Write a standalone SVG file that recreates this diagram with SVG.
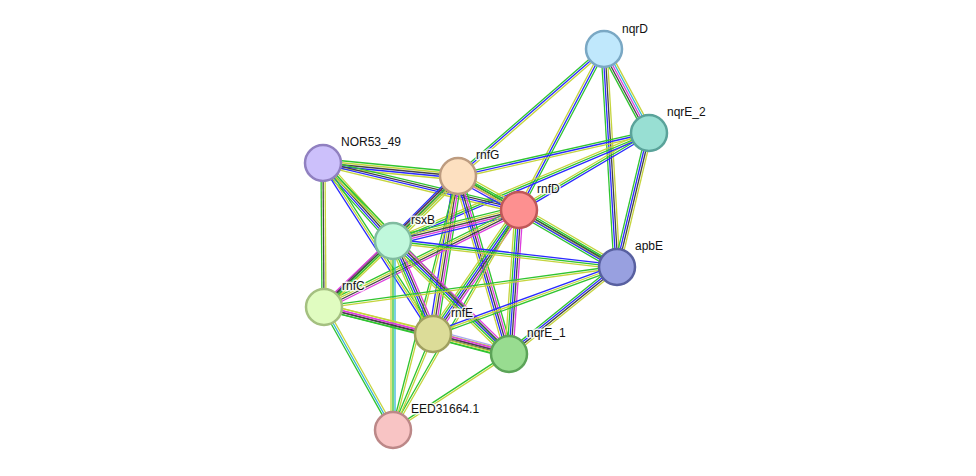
<svg xmlns="http://www.w3.org/2000/svg" width="976" height="476" viewBox="0 0 976 476">
<style>
line{stroke-width:1.3;fill:none}
.y{stroke:#c5d43c}.g{stroke:#2fc42f}.b{stroke:#2a2aff}.k{stroke:#444}.m{stroke:#dd3cdd}.c{stroke:#33b5d6}.h{stroke:#a8a8f0}
.node circle{stroke-width:2.5}
.node text{font-family:"Liberation Sans",Arial,sans-serif;font-size:12px;fill:#111;stroke:#fff;stroke-width:3;stroke-opacity:0.85;paint-order:stroke;stroke-linejoin:round}
</style>
<rect width="976" height="476" fill="#fff"/>
<g id="edges">
<g transform="translate(604 49) rotate(61.8)"><line x2="95.3" y1="-4" y2="-4" class="y"/><line x2="95.3" y1="-2" y2="-2" class="c"/><line x2="95.3" class="m"/><line x2="95.3" y1="2" y2="2" class="k"/><line x2="95.3" y1="4" y2="4" class="g"/></g>
<g transform="translate(604 49) rotate(86.6)"><line x2="218.4" y1="-3" y2="-3" class="y"/><line x2="218.4" y1="-1" y2="-1" class="k"/><line x2="218.4" y1="1" y2="1" class="b"/><line x2="218.4" y1="3" y2="3" class="g"/></g>
<g transform="translate(604 49) rotate(139)"><line x2="193.5" y1="-2" y2="-2" class="y"/><line x2="193.5" class="b"/><line x2="193.5" y1="2" y2="2" class="g"/></g>
<g transform="translate(604 49) rotate(117.8)"><line x2="182.1" y1="-2" y2="-2" class="g"/><line x2="182.1" class="b"/><line x2="182.1" y1="2" y2="2" class="y"/></g>
<g transform="translate(649 133) rotate(167.3)"><line x2="195.8" y1="-2" y2="-2" class="y"/><line x2="195.8" class="b"/><line x2="195.8" y1="2" y2="2" class="g"/></g>
<g transform="translate(649 133) rotate(149.4)"><line x2="151.1" y1="-2" y2="-2" class="b"/><line x2="151.1" class="g"/><line x2="151.1" y1="2" y2="2" class="y"/></g>
<g transform="translate(649 133) rotate(157.1)"><line x2="277.8" y1="-2" y2="-2" class="b"/><line x2="277.8" class="g"/><line x2="277.8" y1="2" y2="2" class="y"/></g>
<g transform="translate(649 133) rotate(103.4)"><line x2="137.8" y1="-3" y2="-3" class="y"/><line x2="137.8" y1="-1" y2="-1" class="k"/><line x2="137.8" y1="1" y2="1" class="b"/><line x2="137.8" y1="3" y2="3" class="g"/></g>
<g transform="translate(323 163) rotate(5.5)"><line x2="135.6" y1="-4" y2="-4" class="g"/><line x2="135.6" y1="-2" y2="-2" class="y"/><line x2="135.6" class="k"/><line x2="135.6" y1="2" y2="2" class="b"/><line x2="135.6" y1="4" y2="4" class="y"/></g>
<g transform="translate(323 163) rotate(13.5)"><line x2="201.6" y1="-3" y2="-3" class="g"/><line x2="201.6" y1="-1" y2="-1" class="k"/><line x2="201.6" y1="1" y2="1" class="b"/><line x2="201.6" y1="3" y2="3" class="y"/></g>
<g transform="translate(323 163) rotate(48.1)"><line x2="104.8" y1="-4" y2="-4" class="y"/><line x2="104.8" y1="-2" y2="-2" class="g"/><line x2="104.8" class="k"/><line x2="104.8" y1="2" y2="2" class="b"/><line x2="104.8" y1="4" y2="4" class="g"/></g>
<g transform="translate(323 163) rotate(89.6)"><line x2="144" y1="-2" y2="-2" class="y"/><line x2="144" class="k"/><line x2="144" y1="2" y2="2" class="g"/></g>
<g transform="translate(323 163) rotate(57.2)"><line x2="203.3" y1="-2" y2="-2" class="g"/><line x2="203.3" class="y"/><line x2="203.3" y1="2" y2="2" class="b"/></g>
<g transform="translate(323 163) rotate(45.8)"><line x2="266.6" y1="-1" y2="-1" class="g"/><line x2="266.6" y1="1" y2="1" class="y"/></g>
<g transform="translate(458 176) rotate(29.1)"><line x2="69.8" y1="-4" y2="-4" class="y"/><line x2="69.8" y1="-2" y2="-2" class="g"/><line x2="69.8" class="k"/><line x2="69.8" y1="2" y2="2" class="m"/><line x2="69.8" y1="4" y2="4" class="b"/></g>
<g transform="translate(458 176) rotate(135)"><line x2="91.9" y1="-4" y2="-4" class="y"/><line x2="91.9" y1="-2" y2="-2" class="g"/><line x2="91.9" class="k"/><line x2="91.9" y1="2" y2="2" class="m"/><line x2="91.9" y1="4" y2="4" class="b"/></g>
<g transform="translate(458 176) rotate(135.6)"><line x2="187.4" y1="-2" y2="-2" class="y"/><line x2="187.4" class="g"/><line x2="187.4" y1="2" y2="2" class="k"/></g>
<g transform="translate(458 176) rotate(99)"><line x2="160" y1="-4" y2="-4" class="g"/><line x2="160" y1="-2" y2="-2" class="m"/><line x2="160" class="k"/><line x2="160" y1="2" y2="2" class="y"/><line x2="160" y1="4" y2="4" class="b"/></g>
<g transform="translate(458 176) rotate(74)"><line x2="185.2" y1="-4" y2="-4" class="g"/><line x2="185.2" y1="-2" y2="-2" class="m"/><line x2="185.2" class="k"/><line x2="185.2" y1="2" y2="2" class="b"/><line x2="185.2" y1="4" y2="4" class="y"/></g>
<g transform="translate(458 176) rotate(29.8)"><line x2="183.2" y1="-1" y2="-1" class="g"/><line x2="183.2" y1="1" y2="1" class="y"/></g>
<g transform="translate(458 176) rotate(104.4)"><line x2="262.2" y1="-1" y2="-1" class="y"/><line x2="262.2" y1="1" y2="1" class="g"/></g>
<g transform="translate(519 210) rotate(166.2)"><line x2="129.8" y1="-4" y2="-4" class="b"/><line x2="129.8" y1="-2" y2="-2" class="m"/><line x2="129.8" class="k"/><line x2="129.8" y1="2" y2="2" class="y"/><line x2="129.8" y1="4" y2="4" class="g"/></g>
<g transform="translate(519 210) rotate(30.2)"><line x2="113.4" y1="-4" y2="-4" class="y"/><line x2="113.4" y1="-2" y2="-2" class="g"/><line x2="113.4" class="k"/><line x2="113.4" y1="2" y2="2" class="b"/><line x2="113.4" y1="4" y2="4" class="g"/></g>
<g transform="translate(519 210) rotate(153.6)"><line x2="217.8" y1="-3" y2="-3" class="m"/><line x2="217.8" y1="-1" y2="-1" class="k"/><line x2="217.8" y1="1" y2="1" class="y"/><line x2="217.8" y1="3" y2="3" class="g"/></g>
<g transform="translate(519 210) rotate(124.7)"><line x2="150.9" y1="-4" y2="-4" class="m"/><line x2="150.9" y1="-2" y2="-2" class="k"/><line x2="150.9" class="b"/><line x2="150.9" y1="2" y2="2" class="g"/><line x2="150.9" y1="4" y2="4" class="y"/></g>
<g transform="translate(519 210) rotate(94)"><line x2="144.3" y1="-4" y2="-4" class="m"/><line x2="144.3" y1="-2" y2="-2" class="k"/><line x2="144.3" class="b"/><line x2="144.3" y1="2" y2="2" class="g"/><line x2="144.3" y1="4" y2="4" class="y"/></g>
<g transform="translate(519 210) rotate(119.8)"><line x2="253.5" y1="-1" y2="-1" class="y"/><line x2="253.5" y1="1" y2="1" class="g"/></g>
<g transform="translate(393 241) rotate(6.6)"><line x2="225.5" y1="-2" y2="-2" class="b"/><line x2="225.5" class="g"/><line x2="225.5" y1="2" y2="2" class="y"/></g>
<g transform="translate(393 241) rotate(136.3)"><line x2="95.5" y1="-3" y2="-3" class="y"/><line x2="95.5" y1="-1" y2="-1" class="g"/><line x2="95.5" y1="1" y2="1" class="k"/><line x2="95.5" y1="3" y2="3" class="m"/></g>
<g transform="translate(393 241) rotate(66.7)"><line x2="101.2" y1="-4" y2="-4" class="m"/><line x2="101.2" y1="-2" y2="-2" class="k"/><line x2="101.2" class="b"/><line x2="101.2" y1="2" y2="2" class="g"/><line x2="101.2" y1="4" y2="4" class="y"/></g>
<g transform="translate(393 241) rotate(44.3)"><line x2="161.9" y1="-4" y2="-4" class="m"/><line x2="161.9" y1="-2" y2="-2" class="k"/><line x2="161.9" class="b"/><line x2="161.9" y1="2" y2="2" class="g"/><line x2="161.9" y1="4" y2="4" class="y"/></g>
<g transform="translate(393 241) rotate(90)"><line x2="189" y1="-2" y2="-2" class="c"/><line x2="189" class="g"/><line x2="189" y1="2" y2="2" class="y"/></g>
<g transform="translate(617 267) rotate(172.2)"><line x2="295.7" y1="-1" y2="-1" class="y"/><line x2="295.7" y1="1" y2="1" class="g"/></g>
<g transform="translate(617 267) rotate(160)"><line x2="195.8" y1="-2" y2="-2" class="g"/><line x2="195.8" class="y"/><line x2="195.8" y1="2" y2="2" class="b"/></g>
<g transform="translate(617 267) rotate(141.1)"><line x2="138.7" y1="-3" y2="-3" class="y"/><line x2="138.7" y1="-1" y2="-1" class="k"/><line x2="138.7" y1="1" y2="1" class="b"/><line x2="138.7" y1="3" y2="3" class="g"/></g>
<g transform="translate(324 307) rotate(13.9)"><line x2="112.3" y1="-3" y2="-3" class="y"/><line x2="112.3" y1="-1" y2="-1" class="m"/><line x2="112.3" y1="1" y2="1" class="k"/><line x2="112.3" y1="3" y2="3" class="g"/></g>
<g transform="translate(324 307) rotate(14.3)"><line x2="190.9" y1="-3" y2="-3" class="y"/><line x2="190.9" y1="-1" y2="-1" class="m"/><line x2="190.9" y1="1" y2="1" class="k"/><line x2="190.9" y1="3" y2="3" class="g"/></g>
<g transform="translate(324 307) rotate(60.7)"><line x2="141" y1="-2" y2="-2" class="y"/><line x2="141" class="c"/><line x2="141" y1="2" y2="2" class="g"/></g>
<g transform="translate(433 334) rotate(14.7)"><line x2="78.6" y1="-4" y2="-4" class="h"/><line x2="78.6" y1="-2" y2="-2" class="m"/><line x2="78.6" class="k"/><line x2="78.6" y1="2" y2="2" class="y"/><line x2="78.6" y1="4" y2="4" class="g"/></g>
<g transform="translate(433 334) rotate(112.6)"><line x2="104" y1="-1" y2="-1" class="y"/><line x2="104" y1="1" y2="1" class="g"/></g>
<g transform="translate(509 354) rotate(146.8)"><line x2="138.7" y1="-1" y2="-1" class="y"/><line x2="138.7" y1="1" y2="1" class="g"/></g>
</g>
<g id="nqrD" class="node"><circle cx="604" cy="49" r="18" fill="#c0e8fc" stroke="#7aa8c4"/><text x="622" y="33">nqrD</text></g>
<g id="nqrE_2" class="node"><circle cx="649" cy="133" r="18" fill="#98dfd3" stroke="#5aa39a"/><text x="667" y="116">nqrE_2</text></g>
<g id="NOR53_49" class="node"><circle cx="323" cy="163" r="18" fill="#ccc0fb" stroke="#9080c0"/><text x="341" y="146">NOR53_49</text></g>
<g id="rnfG" class="node"><circle cx="458" cy="176" r="18" fill="#fde0c0" stroke="#bd9c80"/><text x="476" y="159">rnfG</text></g>
<g id="rnfD" class="node"><circle cx="519" cy="210" r="18" fill="#fd9090" stroke="#c05858"/><text x="537" y="193">rnfD</text></g>
<g id="rsxB" class="node"><circle cx="393" cy="241" r="18" fill="#c0f8dc" stroke="#80bca0"/><text x="411" y="224">rsxB</text></g>
<g id="apbE" class="node"><circle cx="617" cy="267" r="18" fill="#98a0e0" stroke="#5860a0"/><text x="635" y="250">apbE</text></g>
<g id="rnfC" class="node"><circle cx="324" cy="307" r="18" fill="#e0fcc0" stroke="#a4c080"/><text x="342" y="290">rnfC</text></g>
<g id="rnfE" class="node"><circle cx="433" cy="334" r="18" fill="#dcdc98" stroke="#a0a060"/><text x="451" y="317">rnfE</text></g>
<g id="nqrE_1" class="node"><circle cx="509" cy="354" r="18" fill="#98dc90" stroke="#5ca458"/><text x="527" y="337">nqrE_1</text></g>
<g id="EED31664.1" class="node"><circle cx="393" cy="430" r="18" fill="#f8c4c4" stroke="#bc8888"/><text x="411" y="413">EED31664.1</text></g>
</svg>
